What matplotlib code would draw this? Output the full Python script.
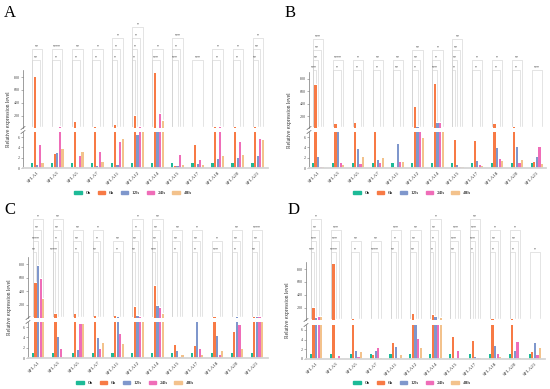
import numpy as np
import matplotlib.pyplot as plt
import matplotlib.transforms as mtransforms
from matplotlib.lines import Line2D
from matplotlib.patches import Patch

plt.rcParams['font.family'] = ['Liberation Serif', 'DejaVu Serif']

W, H = 550, 389

genes = ['SFLA1', 'SFLA3', 'SFLA5', 'SFLA7', 'SFLA11', 'SFLA12',
         'SFLA14', 'SFLA15', 'SFLA17', 'SFLA18', 'SFLA20', 'SFLA21']
times = ['0h', '6h', '12h', '24h', '48h']
colors = ['#1dba97', '#f77a45', '#7f97cc', '#ef6db8', '#f3c28c']

# relative expression, rows = genes, cols = 0h, 6h, 12h, 24h, 48h
vals_A = [[1, 800, 0.5, 4.4, 0.9],
          [1, 2.7, 3.0, 20, 3.6],
          [1, 100, 0.2, 2.3, 3.1],
          [1, 15, 0.3, 3.2, 1.1],
          [1, 50, 0.5, 5.0, 5.6],
          [1, 190, 6.5, 25, 8],
          [1, 870, 12, 230, 110],
          [1, 0.3, 0.4, 2.5, 0.5],
          [1, 4.5, 0.7, 1.5, 0.6],
          [1, 20, 1.8, 20, 2.3],
          [1, 15, 2.0, 5.0, 2.6],
          [1, 15, 2.3, 5.6, 5.4]]

vals_B = [[1, 700, 2.2, 0.2, 0.1],
          [1, 70, 8, 1.0, 0.5],
          [1, 90, 3.6, 0.8, 2.1],
          [1, 15, 1.5, 0.9, 2.0],
          [1, 0.1, 4.7, 1.1, 1.1],
          [1, 340, 30, 8, 5.8],
          [1, 720, 80, 80, 15],
          [1, 5.5, 0.5, 0.1, 0.2],
          [1, 5.2, 1.4, 0.5, 0.3],
          [1, 70, 3.8, 1.7, 1.3],
          [1, 20, 4.0, 1.0, 1.5],
          [1, 1.2, 2.2, 4.0, 0.8]]

vals_C = [[1, 530, 770, 580, 290],
          [1, 60, 4.1, 1.8, 0.1],
          [1, 60, 1.6, 6.6, 6.6],
          [1, 30, 3.8, 1.8, 3.0],
          [1, 30, 15, 4.7, 2.8],
          [1, 170, 30, 25, 8],
          [1, 480, 180, 160, 70],
          [1, 2.5, 1.3, 0.2, 0.6],
          [1, 2.4, 12, 1.7, 0.6],
          [1, 15, 4.2, 0.6, 1.4],
          [1, 5.0, 20, 6.5, 1.8],
          [1, 20, 20, 20, 8]]

vals_D = [[1, 190, 40, 50, 55],
          [1, 880, 0.1, 0.7, 0.1],
          [1, 25, 1.6, 0.4, 1.4],
          [1, 0.8, 1.7, 2.2, 0.3],
          [1, 3.3, 2.4, 0.2, 0.8],
          [1, 100, 12, 4.2, 2.2],
          [1, 80, 60, 10, 40],
          [1, 4.5, 0.1, 1.6, 0.1],
          [1, 3.8, 0.4, 0.2, 0.2],
          [1, 15, 2.6, 1.0, 0.5],
          [1, 25, 1.6, 3.5, 0.3],
          [1, 1.4, 3.2, 0.8, 2.3]]

# significance stars, one list per gene, from lowest bracket upwards
stars_A = [['**', '**'], ['*', '****'], ['*', '**'], ['*', '*'],
           ['*', '*', '*'], ['*', '*', '*', '*'], ['***', '*'],
           ['***', '*', '***'], ['***'], ['*', '*'], ['*', '*'],
           ['**', '**', '*']]
stars_B = [['***', '**', '**', '***'], ['*', '****'], ['*', '*'], ['*', '**'],
           ['**', '**'], ['*', '**', '**'], ['***', '*', '*'],
           ['*', '**', '**', '**'], ['*', '*'], ['*', '*'], ['*', '**'],
           ['***']]
stars_C = [['**', '****', '**', '*'], ['****', '*', '**', '**'],
           ['*', '**', '**'], ['**', '*', '*'], ['*', '**'],
           ['**', '**', '*', '*'], ['***', '**', '**', '**'],
           ['*', '**', '**'], ['*', '**', '*'], ['***', '*'],
           ['*', '**', '**'], ['**', '**', '****']]
stars_D = [['***', '***', '**', '*'], ['****', '***', '***'], ['*', '**'],
           ['****', '**'], ['**', '*', '***'], ['**', '**', '**'],
           ['*', '*', '**', '*'], ['**', '***', '***'],
           ['*', '***', '***', '**'], ['*', '**', '*'], ['*', '**', '*'],
           ['*']]

# panel geometry in pixels
panels = [
    dict(name='A', vals=vals_A, stars=stars_A, spine=23, first=32, last=263, right=268,
         up=(70, 128), lo=(132, 168), levels=[60, 49, 38, 27], letter=(4, 17),
         ylab=9, leg=(133, 193)),
    dict(name='B', vals=vals_B, stars=stars_B, spine=309, first=313, last=542, right=546,
         up=(72, 128), lo=(132, 168), levels=[70, 60, 50, 39], letter=(285, 17),
         ylab=290, leg=(412, 193)),
    dict(name='C', vals=vals_C, stars=stars_C, spine=28, first=33, last=262, right=268,
         up=(257, 318), lo=(322, 358), levels=[252, 241, 230, 219], letter=(4, 214),
         ylab=10, leg=(135, 383)),
    dict(name='D', vals=vals_D, stars=stars_D, spine=306, first=311, last=540, right=545,
         up=(262, 320), lo=(325, 359), levels=[252, 241, 230, 219], letter=(288, 214),
         ylab=288, leg=(412, 383)),
]

step = 0.13
width = 0.11
up_lim = (7, 910)
lo_lim = (0, 7)


def rect(l, r, t, b):
    return [l / W, 1 - b / H, (r - l) / W, (b - t) / H]


fig = plt.figure(figsize=(W / 100, H / 100), dpi=100)

for p in panels:
    vals = np.array(p['vals'], dtype=float)
    x = np.arange(len(genes))
    span = 11 + 4 * step
    scale = (p['last'] - p['first']) / span
    xl = ((p['spine'] - p['first']) / scale, (p['right'] - p['first']) / scale)

    ax_up = fig.add_axes(rect(p['spine'], p['right'], *p['up']))
    ax_lo = fig.add_axes(rect(p['spine'], p['right'], *p['lo']))
    for ax in (ax_up, ax_lo):
        for j in range(len(times)):
            ax.bar(x + j * step, vals[:, j], width, color=colors[j], linewidth=0)
        ax.set_xlim(*xl)
        ax.spines['top'].set_visible(False)
        ax.spines['right'].set_visible(False)
        ax.spines['left'].set_linewidth(0.5)
        ax.spines['left'].set_color('#777777')
        ax.tick_params(axis='y', length=1.5, width=0.4, labelsize=3.0, pad=1,
                       color='#777777', labelcolor='#444444')
    ax_up.set_ylim(*up_lim)
    ax_up.set_yticks([200, 400, 600, 800])
    ax_up.spines['bottom'].set_visible(False)
    ax_up.set_xticks([])
    ax_lo.set_ylim(*lo_lim)
    ax_lo.set_yticks([0, 2, 4, 6])
    ax_lo.spines['bottom'].set_color('#d6d6d6')
    ax_lo.spines['bottom'].set_linewidth(1.3)
    ax_lo.set_xticks(x + 2 * step)
    ax_lo.set_xticklabels(genes, rotation=45, ha='right', va='top',
                          rotation_mode='anchor', fontsize=3.6, color='#333333')
    ax_lo.tick_params(axis='x', length=0, pad=2)

    # axis break marks
    bx = p['spine'] / W
    for yb in (p['up'][1], p['lo'][0]):
        yy = 1 - yb / H
        fig.add_artist(Line2D([bx - 2 / W, bx + 2 / W], [yy - 1.5 / H, yy + 1.5 / H],
                              color='#666666', lw=0.5))

    # significance brackets (0h vs later time points, nested)
    trans = mtransforms.blended_transform_factory(ax_up.transData, fig.transFigure)
    u_top, u_bot = p['up']
    for i, st in enumerate(p['stars']):
        x0 = i
        n = len(st)
        for k, s in enumerate(st):
            tgt = 4 - n + 1 + k
            x1 = i + tgt * step
            ly = p['levels'][k]
            f0 = np.clip((vals[i, 0] - up_lim[0]) / (up_lim[1] - up_lim[0]), 0, 1)
            f1 = np.clip((vals[i, tgt] - up_lim[0]) / (up_lim[1] - up_lim[0]), 0, 1)
            b0 = u_bot - f0 * (u_bot - u_top) - 2
            b1 = u_bot - f1 * (u_bot - u_top) - 2
            ax_up.plot([x0, x0, x1, x1],
                       [1 - b0 / H, 1 - ly / H, 1 - ly / H, 1 - b1 / H],
                       transform=trans, color='#d4d4d4', lw=0.45, clip_on=False)
            ax_up.text((x0 + x1) / 2, 1 - (ly - 0.8) / H, s, transform=trans,
                       ha='center', va='bottom', fontsize=2.8, color='#222222')

    fig.text(p['letter'][0] / W, 1 - p['letter'][1] / H, p['name'], fontsize=12,
             ha='left', va='baseline', color='black')
    yc = (p['up'][0] + p['lo'][1]) / 2
    fig.text(p['ylab'] / W, 1 - yc / H, 'Relative expression level', rotation=90,
             fontsize=4.0, ha='center', va='center', color='#333333')

    handles = [Patch(color=c, label=t) for c, t in zip(colors, times)]
    fig.legend(handles=handles, loc='center',
               bbox_to_anchor=(p['leg'][0] / W, 1 - p['leg'][1] / H),
               ncol=5, frameon=False, fontsize=3.8, handlelength=1.4,
               handleheight=0.55, columnspacing=1.3, handletextpad=0.7,
               borderpad=0, borderaxespad=0)

fig.savefig('out.png', dpi=100, facecolor='white')
